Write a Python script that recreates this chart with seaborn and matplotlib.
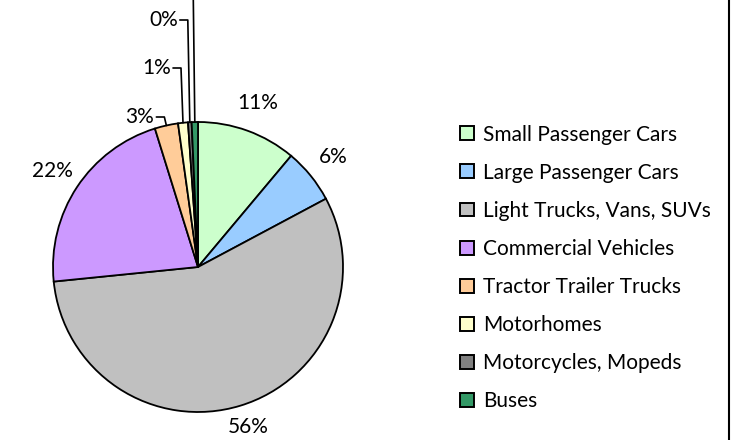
import numpy as np
import matplotlib
matplotlib.use("Agg")
import matplotlib.pyplot as plt
from matplotlib.patches import Patch
from matplotlib.lines import Line2D
import seaborn as sns

categories = [
    "Small Passenger Cars",
    "Large Passenger Cars",
    "Light Trucks, Vans, SUVs",
    "Commercial Vehicles",
    "Tractor Trailer Trucks",
    "Motorhomes",
    "Motorcycles, Mopeds",
    "Buses",
]
shares = [11.1, 6.1, 56.2, 21.8, 2.6, 1.1, 0.4, 0.7]
colors = ["#CCFFCC", "#99CCFF", "#C0C0C0", "#CC99FF",
          "#FFCC99", "#FFFFCC", "#808080", "#339966"]
# small slices get a leader line up to a label row (pixel y from top);
# the Buses label sits above the visible frame, only its line shows
leader_rows = {4: 117, 5: 68, 6: 20, 7: -40}

sns.set_theme(style="white")
plt.rcParams["font.family"] = ["Lato", "DejaVu Sans"]
plt.rcParams["text.color"] = "black"
FS = 15

W, H = 735, 440
fig = plt.figure(figsize=(W / 100, H / 100), dpi=100)
ax = fig.add_axes([0, 0, 1, 1])

cx, cy, r = 198, H - 267, 145
wedges, _ = ax.pie(
    shares, colors=colors, startangle=90, counterclock=False,
    center=(cx, cy), radius=r, frame=True,
    wedgeprops=dict(edgecolor="black", linewidth=1.3),
)
ax.set_xlim(0, W)
ax.set_ylim(0, H)
ax.set_aspect("equal")
ax.axis("off")

total = sum(shares)
for i, (w, v) in enumerate(zip(wedges, shares)):
    pct = f"{v / total * 100:.0f}%"
    mid = np.deg2rad((w.theta1 + w.theta2) / 2)
    if i in leader_rows:
        xa, ya = cx + r * np.cos(mid), cy + r * np.sin(mid)
        yl = H - leader_rows[i]
        ax.plot([xa, xa - 2, xa - 10], [ya, yl, yl], color="black",
                lw=1.2, clip_on=False)
        if yl < H:
            ax.text(xa - 12, yl, pct, ha="right", va="center", fontsize=FS)
    else:
        d = r * 1.2
        tx, ty = cx + d * np.cos(mid), cy + d * np.sin(mid)
        # keep the label inside the chart area, like the spreadsheet does
        ty = min(max(ty, 13), H - 13)
        ax.text(tx, ty, pct, ha="center", va="center", fontsize=FS)

handles = [Patch(facecolor=c, edgecolor="black", linewidth=1.4) for c in colors]
ax.legend(
    handles, categories, loc="center left",
    bbox_to_anchor=(460 / W, 1 - 268 / H), frameon=False,
    fontsize=FS, handlelength=0.65, handleheight=0.65,
    handletextpad=0.45, labelspacing=0.87, borderpad=0, borderaxespad=0,
)

fig.add_artist(Line2D([729 / W, 729 / W], [0, 1], color="black", lw=1.5))

fig.savefig("out.png", dpi=100)
plt.close(fig)
